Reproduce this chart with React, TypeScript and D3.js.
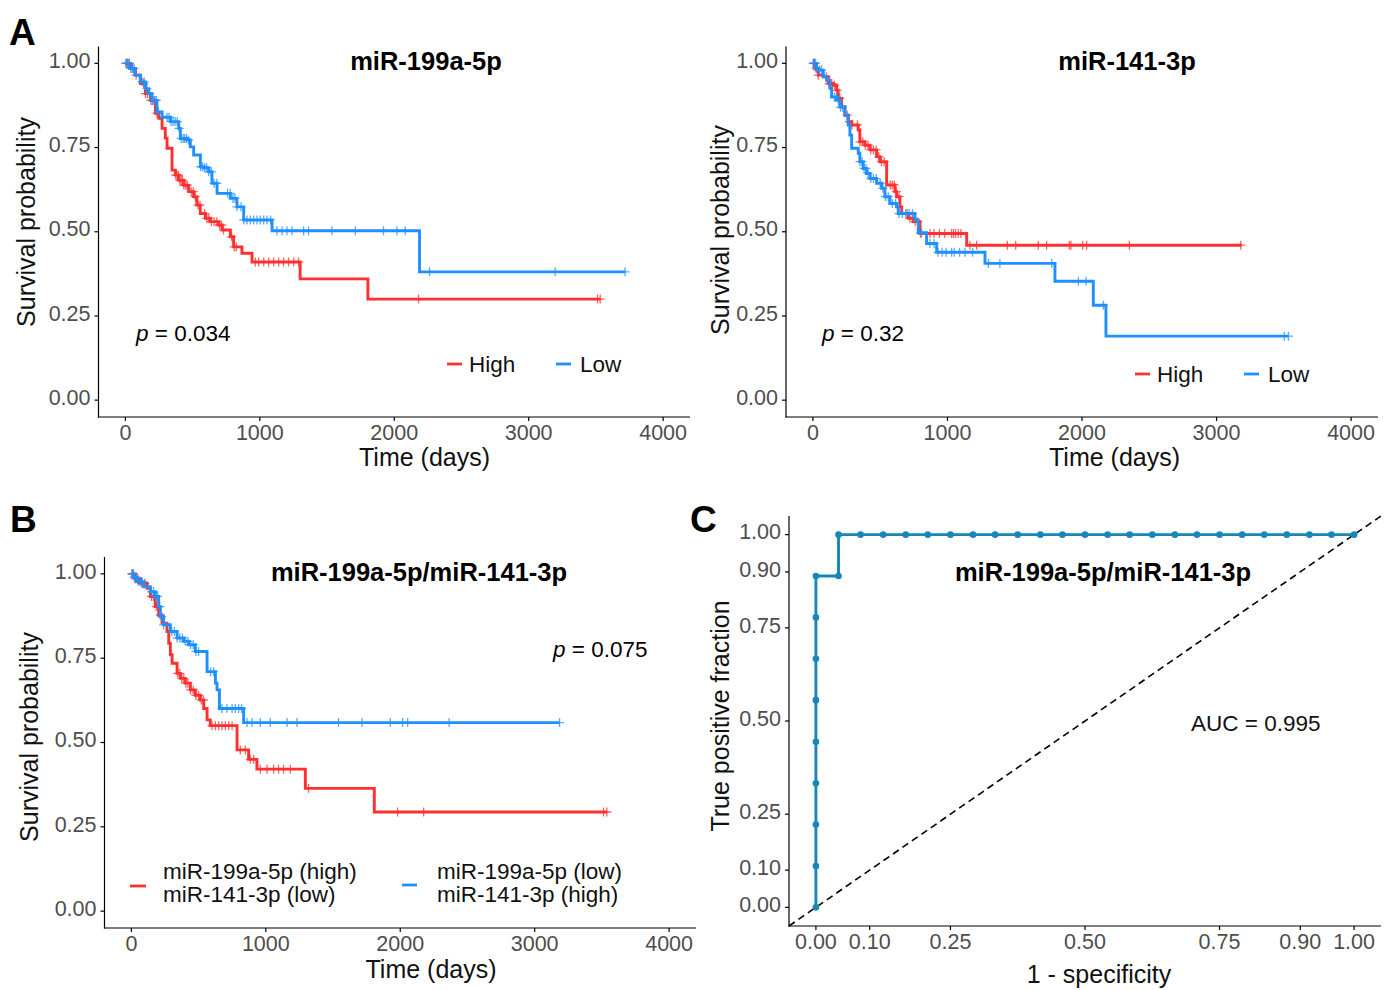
import React from "react";
import * as d3 from "d3";

// ---------- colours ----------
const COL_HIGH = "#FF3030";
const COL_LOW = "#1E90FF";
const COL_ROC = "#1786B8";

// ---------- shared ticks ----------
const dayTicks = [0, 1000, 2000, 3000, 4000];
const survTicks = [0, 0.25, 0.5, 0.75, 1];
const survTickLabels = ["0.00", "0.25", "0.50", "0.75", "1.00"];
const rocTicks = [0, 0.1, 0.25, 0.5, 0.75, 0.9, 1];
const rocTickLabels = ["0.00", "0.10", "0.25", "0.50", "0.75", "0.90", "1.00"];

// ---------- Panel A (left): miR-199a-5p ----------
const a1HighTimes = [40, 75, 111, 149, 186, 223, 248, 273, 297, 310, 347, 372, 396, 434, 471, 508, 532, 557, 595, 632, 694, 719, 781, 805, 867, 942, 1300, 1804];
const a1HighSurv = [0.985, 0.965, 0.94, 0.91, 0.89, 0.852, 0.837, 0.807, 0.778, 0.748, 0.683, 0.668, 0.653, 0.638, 0.619, 0.604, 0.579, 0.554, 0.54, 0.53, 0.52, 0.505, 0.485, 0.455, 0.436, 0.41, 0.36, 0.30];
const a1HighEnd = 3532;
const a1HighCensor = [5, 15, 30, 50, 80, 135, 150, 165, 190, 205, 220, 235, 375, 385, 395, 405, 415, 425, 435, 450, 460, 490, 505, 520, 540, 555, 590, 605, 620, 640, 660, 680, 700, 715, 730, 790, 810, 825, 967, 991, 1029, 1066, 1103, 1140, 1177, 1214, 1252, 1288, 2181, 3512, 3532];

const a1LowTimes = [30, 70, 111, 150, 173, 198, 235, 273, 335, 397, 409, 458, 483, 508, 558, 582, 620, 644, 682, 781, 830, 880, 1091, 2188];
const a1LowSurv = [0.985, 0.965, 0.945, 0.925, 0.91, 0.89, 0.856, 0.84, 0.827, 0.807, 0.777, 0.772, 0.752, 0.728, 0.693, 0.69, 0.678, 0.644, 0.614, 0.599, 0.574, 0.535, 0.503, 0.381];
const a1LowEnd = 3717;
const a1LowCensor = [5, 15, 25, 40, 55, 65, 125, 140, 160, 180, 200, 215, 230, 245, 310, 325, 340, 355, 370, 385, 400, 415, 430, 440, 455, 470, 560, 575, 590, 605, 620, 640, 660, 680, 760, 780, 800, 815, 830, 860, 880, 905, 929, 954, 979, 1004, 1029, 1053, 1080, 1128, 1165, 1202, 1239, 1326, 1362, 1536, 1710, 1920, 2020, 2082, 2262, 3197, 3717];

// ---------- Panel A (right): miR-141-3p ----------
const a2HighTimes = [15, 40, 77, 114, 151, 176, 188, 213, 238, 262, 288, 337, 349, 387, 424, 474, 498, 548, 610, 622, 647, 660, 709, 746, 796, 1143];
const a2HighSurv = [0.985, 0.965, 0.96, 0.94, 0.935, 0.92, 0.896, 0.871, 0.846, 0.827, 0.817, 0.802, 0.767, 0.757, 0.743, 0.723, 0.708, 0.639, 0.619, 0.604, 0.574, 0.554, 0.54, 0.53, 0.495, 0.46];
const a2HighEnd = 3187;
const a2HighCensor = [3, 12, 25, 40, 100, 120, 140, 160, 180, 200, 255, 270, 290, 330, 350, 370, 390, 410, 430, 450, 470, 490, 510, 530, 575, 590, 605, 620, 640, 700, 720, 740, 760, 780, 800, 870, 900, 940, 980, 1031, 1045, 1060, 1080, 1100, 1167, 1217, 1445, 1507, 1675, 1737, 1906, 1918, 2005, 2035, 2352, 3180];

const a2LowTimes = [27, 77, 102, 126, 139, 176, 201, 238, 262, 275, 288, 337, 349, 374, 399, 424, 474, 511, 535, 572, 622, 634, 758, 783, 845, 920, 1279, 1799, 2084, 2178];
const a2LowSurv = [0.98, 0.96, 0.95, 0.926, 0.9, 0.89, 0.87, 0.846, 0.817, 0.787, 0.748, 0.733, 0.708, 0.688, 0.673, 0.658, 0.644, 0.629, 0.604, 0.584, 0.574, 0.554, 0.535, 0.497, 0.465, 0.439, 0.406, 0.353, 0.282, 0.19];
const a2LowEnd = 3534;
const a2LowCensor = [3, 10, 20, 35, 50, 65, 160, 175, 190, 205, 220, 350, 365, 380, 395, 410, 430, 450, 470, 500, 520, 540, 560, 590, 615, 640, 665, 690, 715, 740, 808, 870, 900, 930, 960, 990, 1031, 1050, 1090, 1130, 1187, 1304, 1390, 1775, 1973, 2030, 2159, 3504, 3534];

// ---------- Panel B: miR-199a-5p/miR-141-3p ----------
const bHighTimes = [30, 67, 117, 141, 178, 203, 228, 265, 278, 290, 303, 340, 364, 401, 439, 476, 513, 538, 563, 587, 786, 872, 934, 1294, 1807];
const bHighSurv = [0.985, 0.972, 0.957, 0.933, 0.903, 0.878, 0.854, 0.829, 0.794, 0.76, 0.735, 0.705, 0.69, 0.676, 0.656, 0.64, 0.626, 0.601, 0.567, 0.55, 0.478, 0.45, 0.421, 0.364, 0.294];
const bHighEnd = 3537;
const bHighCensor = [5, 15, 30, 50, 75, 100, 150, 165, 185, 200, 215, 345, 360, 375, 390, 405, 420, 440, 460, 480, 500, 520, 535, 600, 625, 649, 674, 699, 724, 749, 810, 848, 885, 909, 959, 1009, 1058, 1095, 1132, 1182, 1318, 1980, 2174, 3512, 3537];

const bLowTimes = [17, 42, 92, 141, 178, 203, 216, 240, 290, 340, 389, 426, 476, 563, 625, 637, 655, 835];
const bLowSurv = [0.99, 0.977, 0.962, 0.947, 0.933, 0.903, 0.873, 0.849, 0.829, 0.81, 0.8, 0.79, 0.77, 0.71, 0.676, 0.656, 0.601, 0.559];
const bLowEnd = 3185;
const bLowCensor = [5, 12, 22, 35, 50, 65, 80, 150, 165, 180, 195, 210, 225, 240, 300, 320, 340, 360, 380, 400, 420, 440, 460, 480, 500, 590, 612, 674, 711, 749, 773, 798, 820, 860, 897, 959, 1033, 1158, 1232, 1541, 1715, 1926, 2017, 2055, 2364, 3185];

// ---------- Panel C: ROC ----------
const rocFPF = [0, 0, 0, 0, 0, 0, 0, 0, 0, 0.042, 0.042, 0.083, 0.125, 0.167, 0.208, 0.25, 0.292, 0.333, 0.375, 0.417, 0.458, 0.5, 0.542, 0.583, 0.625, 0.667, 0.708, 0.75, 0.792, 0.833, 0.875, 0.917, 0.958, 1];
const rocTPF = [0, 0.111, 0.222, 0.333, 0.444, 0.556, 0.667, 0.778, 0.889, 0.889, 1, 1, 1, 1, 1, 1, 1, 1, 1, 1, 1, 1, 1, 1, 1, 1, 1, 1, 1, 1, 1, 1, 1, 1];

const FONT = "'Liberation Sans', Arial, Helvetica, sans-serif";
const TICK_COL = "#4D4D4D";

type Curve = { times: number[]; surv: number[]; end: number; censor: number[]; color: string };

function survAt(c: Curve, t: number) {
  let s = 1;
  for (let i = 0; i < c.times.length; i++) if (c.times[i] <= t) s = c.surv[i];
  return s;
}

function KMPanel(props: {
  x0: number; x1: number; y0: number; y1: number;
  curves: Curve[];
}) {
  const { x0, x1, y0, y1, curves } = props;
  const xs = d3.scaleLinear().domain([-200, 4200]).range([x0, x1]);
  const ys = d3.scaleLinear().domain([-0.05, 1.05]).range([y1, y0]);
  const line = d3.line<[number, number]>().x((d) => xs(d[0])).y((d) => ys(d[1])).curve(d3.curveStepAfter);
  return (
    <g>
      {curves.map((c, ci) => {
        const pts: [number, number][] = [[0, 1], ...c.times.map((t, i) => [t, c.surv[i]] as [number, number]), [c.end, c.surv[c.surv.length - 1]]];
        return (
          <g key={ci}>
            <path d={line(pts) || ""} fill="none" stroke={c.color} strokeWidth={2.9} />
            {c.censor.map((t, i) => {
              const cx = xs(t), cy = ys(survAt(c, t));
              return <path key={i} d={`M${cx - 4.5},${cy}H${cx + 4.5}M${cx},${cy - 4.5}V${cy + 4.5}`} stroke={c.color} strokeWidth={1.3} opacity={0.75} />;
            })}
          </g>
        );
      })}
      <Axes xs={xs} ys={ys} x0={x0} x1={x1} y0={y0} y1={y1} xTicks={dayTicks} xLabels={dayTicks.map(String)} yTicks={survTicks} yLabels={survTickLabels} />
    </g>
  );
}

function Axes(props: any) {
  const { xs, ys, x0, x1, y0, y1, xTicks, xLabels, yTicks, yLabels } = props;
  return (
    <g>
      <line x1={x0} x2={x0} y1={y0} y2={y1 + 0.6} stroke="#000" strokeWidth={1.2} />
      <line x1={x0 - 0.6} x2={x1} y1={y1} y2={y1} stroke="#000" strokeWidth={1.2} />
      {yTicks.map((v: number, i: number) => (
        <g key={"y" + i}>
          <line x1={x0 - 4} x2={x0} y1={ys(v)} y2={ys(v)} stroke="#000" strokeWidth={1.2} />
          <text x={x0 - 8} y={ys(v)} dy="0.22em" textAnchor="end" fontSize={21.5} fill={TICK_COL} fontFamily={FONT}>{yLabels[i]}</text>
        </g>
      ))}
      {xTicks.map((v: number, i: number) => (
        <g key={"x" + i}>
          <line x1={xs(v)} x2={xs(v)} y1={y1} y2={y1 + 4} stroke="#000" strokeWidth={1.2} />
          <text x={xs(v)} y={y1 + 23} textAnchor="middle" fontSize={21.5} fill={TICK_COL} fontFamily={FONT}>{xLabels[i]}</text>
        </g>
      ))}
    </g>
  );
}

function PVal({ x, y, value }: { x: number; y: number; value: string }) {
  return (
    <text x={x} y={y} fontSize={22.5} fontFamily={FONT} fill="#000">
      <tspan fontStyle="italic">p</tspan> = {value}
    </text>
  );
}

function ROCPanel() {
  const x0 = 789, x1 = 1381, y0 = 516, y1 = 926;
  const xs = d3.scaleLinear().domain([-0.05, 1.05]).range([x0, x1]);
  const ys = d3.scaleLinear().domain([-0.05, 1.05]).range([y1, y0]);
  const pts = rocFPF.map((f, i) => [f, rocTPF[i]] as [number, number]);
  const line = d3.line<[number, number]>().x((d) => xs(d[0])).y((d) => ys(d[1]));
  return (
    <g>
      <line x1={xs(-0.05)} y1={ys(-0.05)} x2={xs(1.05)} y2={ys(1.05)} stroke="#000" strokeWidth={1.6} strokeDasharray="7,4.5" />
      <path d={line(pts) || ""} fill="none" stroke={COL_ROC} strokeWidth={2.9} />
      {pts.map((p, i) => (
        <circle key={i} cx={xs(p[0])} cy={ys(p[1])} r={3.3} fill={COL_ROC} />
      ))}
      <Axes xs={xs} ys={ys} x0={x0} x1={x1} y0={y0} y1={y1} xTicks={rocTicks} xLabels={rocTickLabels} yTicks={rocTicks} yLabels={rocTickLabels} />
    </g>
  );
}

export default function App() {
  const axisTitle = { fontSize: 25, fontFamily: FONT, fill: "#111" } as any;
  const titleStyle = { fontSize: 25.5, fontFamily: FONT, fontWeight: "bold", fill: "#000" } as any;
  const legStyle = { fontSize: 22.5, fontFamily: FONT, fill: "#111" } as any;
  const letter = { fontSize: 37, fontFamily: FONT, fontWeight: "bold", fill: "#000" } as any;
  return (
    <div style={{ position: "absolute", left: 0, top: 0, width: 1400, height: 990, background: "#fff" }}>
      <svg width={1400} height={990} viewBox="0 0 1400 990">
        <rect width={1400} height={990} fill="#fff" />
        {/* Panel A left */}
        <KMPanel x0={98.5} x1={690} y0={46.5} y1={417}
          curves={[
            { times: a1HighTimes, surv: a1HighSurv, end: a1HighEnd, censor: a1HighCensor, color: COL_HIGH },
            { times: a1LowTimes, surv: a1LowSurv, end: a1LowEnd, censor: a1LowCensor, color: COL_LOW },
          ]} />
        <text x={426} y={70} textAnchor="middle" {...titleStyle}>miR-199a-5p</text>
        <PVal x={136} y={341} value="0.034" />
        <line x1={447} x2={462} y1={364} y2={364} stroke={COL_HIGH} strokeWidth={2.8} />
        <text x={469} y={372} {...legStyle}>High</text>
        <line x1={556} x2={571} y1={364} y2={364} stroke={COL_LOW} strokeWidth={2.8} />
        <text x={580} y={372} {...legStyle}>Low</text>
        <text x={424.5} y={466} textAnchor="middle" {...axisTitle}>Time (days)</text>
        <text transform="translate(35,222) rotate(-90)" textAnchor="middle" {...axisTitle}>Survival probability</text>

        {/* Panel A right */}
        <KMPanel x0={786} x1={1378} y0={46.5} y1={417}
          curves={[
            { times: a2HighTimes, surv: a2HighSurv, end: a2HighEnd, censor: a2HighCensor, color: COL_HIGH },
            { times: a2LowTimes, surv: a2LowSurv, end: a2LowEnd, censor: a2LowCensor, color: COL_LOW },
          ]} />
        <text x={1127} y={70} textAnchor="middle" {...titleStyle}>miR-141-3p</text>
        <PVal x={822} y={341} value="0.32" />
        <line x1={1135} x2={1150} y1={374} y2={374} stroke={COL_HIGH} strokeWidth={2.8} />
        <text x={1157} y={382} {...legStyle}>High</text>
        <line x1={1244} x2={1259} y1={374} y2={374} stroke={COL_LOW} strokeWidth={2.8} />
        <text x={1268} y={382} {...legStyle}>Low</text>
        <text x={1114.5} y={466} textAnchor="middle" {...axisTitle}>Time (days)</text>
        <text transform="translate(729,230) rotate(-90)" textAnchor="middle" {...axisTitle}>Survival probability</text>

        {/* Panel B */}
        <KMPanel x0={104.5} x1={696} y0={557} y1={928}
          curves={[
            { times: bHighTimes, surv: bHighSurv, end: bHighEnd, censor: bHighCensor, color: COL_HIGH },
            { times: bLowTimes, surv: bLowSurv, end: bLowEnd, censor: bLowCensor, color: COL_LOW },
          ]} />
        <text x={419} y={581} textAnchor="middle" {...titleStyle}>miR-199a-5p/miR-141-3p</text>
        <PVal x={553} y={657} value="0.075" />
        <line x1={130} x2={146} y1={886} y2={886} stroke={COL_HIGH} strokeWidth={2.8} />
        <text x={163} y={879} {...legStyle}>miR-199a-5p (high)</text>
        <text x={163} y={902} {...legStyle}>miR-141-3p (low)</text>
        <line x1={402} x2={417} y1={885} y2={885} stroke={COL_LOW} strokeWidth={2.8} />
        <text x={437} y={879} {...legStyle}>miR-199a-5p (low)</text>
        <text x={437} y={902} {...legStyle}>miR-141-3p (high)</text>
        <text x={431} y={978} textAnchor="middle" {...axisTitle}>Time (days)</text>
        <text transform="translate(38,737) rotate(-90)" textAnchor="middle" {...axisTitle}>Survival probability</text>

        {/* Panel C */}
        <ROCPanel />
        <text x={1103} y={581} textAnchor="middle" {...titleStyle}>miR-199a-5p/miR-141-3p</text>
        <text x={1191} y={731} {...legStyle}>AUC = 0.995</text>
        <text x={1099} y={983} textAnchor="middle" {...axisTitle}>1 - specificity</text>
        <text transform="translate(729,716) rotate(-90)" textAnchor="middle" {...axisTitle}>True positive fraction</text>

        {/* Panel letters */}
        <text x={9} y={45} {...letter}>A</text>
        <text x={10} y={532} {...letter}>B</text>
        <text x={690} y={532} {...letter}>C</text>
      </svg>
    </div>
  );
}
